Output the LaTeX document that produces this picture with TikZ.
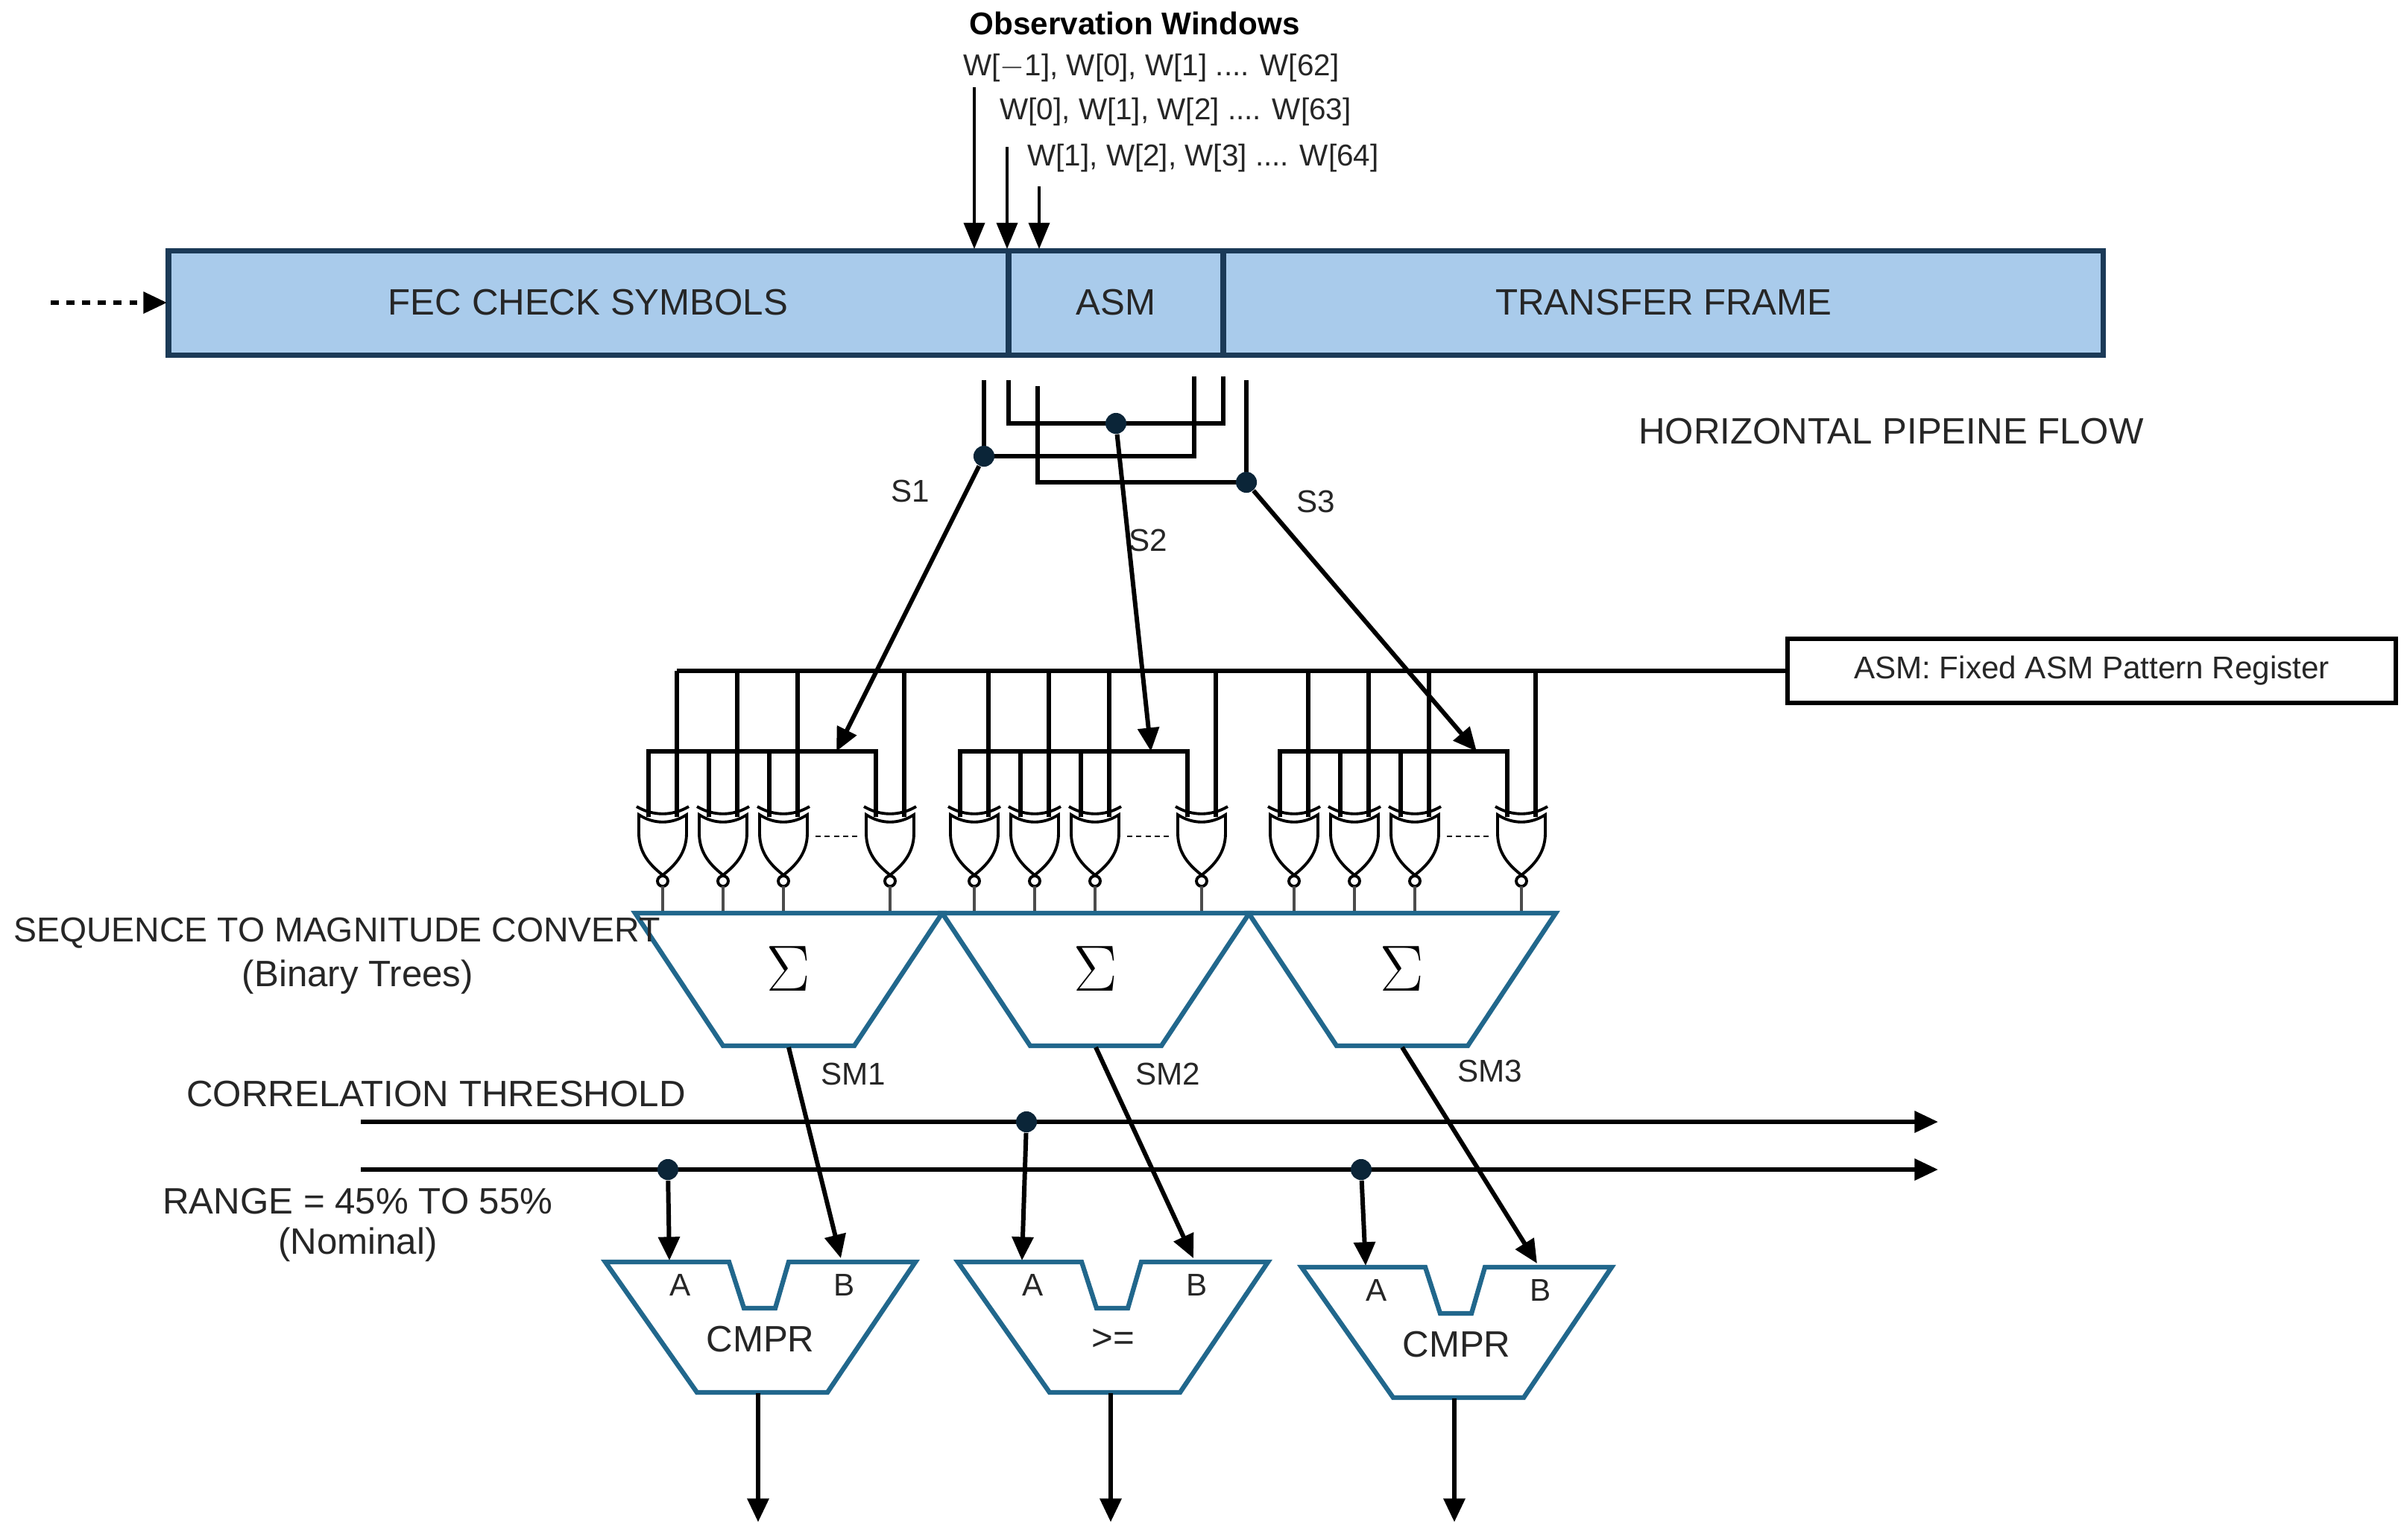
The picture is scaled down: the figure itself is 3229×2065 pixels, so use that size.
\documentclass[tikz,border=0pt]{standalone}
\usepackage{fontspec}
\setmainfont{Liberation Sans}
\usetikzlibrary{arrows.meta}
\definecolor{barfill}{HTML}{A9CBEB}
\definecolor{barline}{HTML}{1B3A57}
\definecolor{trap}{HTML}{21678C}
\definecolor{dotc}{HTML}{0B2538}
\begin{document}
\begin{tikzpicture}[x=0.01cm,y=-0.01cm,
  wire/.style={line width=1.7pt,black},
  arr/.style={wire,-{Triangle[length=9pt,width=8pt]}},
  gate/.style={line width=1.1pt,black},
  blk/.style={line width=1.8pt,trap},
  lbl/.style={font=\fontsize{14}{16}\selectfont,text=black!85},
  sm/.style={font=\fontsize{12}{14}\selectfont,text=black!85},
  wl/.style={font=\fontsize{11.5}{13}\selectfont,text=black!85},
  jdot/.style={circle,fill=dotc,inner sep=0pt,minimum size=8pt}]
\useasboundingbox (0,0) rectangle (3229,2065);
% top texts
\node[font=\bfseries\fontsize{12}{14}\selectfont] (obs) at (1522,31) {Observation Windows};
\node[wl,anchor=west] (w1) at (1280,91) {W[$-$1], W[0], W[1] .... W[62]};
\node[wl,anchor=west] (w2) at (1329,150) {W[0], W[1], W[2] .... W[63]};
\node[wl,anchor=west] (w3) at (1366,212) {W[1], W[2], W[3] .... W[64]};
% bar
\draw[line width=2pt,draw=barline,fill=barfill] (226,336) rectangle (2821,476);
\draw[line width=2pt,barline] (1353,336) -- (1353,476) (1641,336) -- (1641,476);
\node[lbl] (fec) at (789,406) {FEC CHECK SYMBOLS};
\node[lbl] (asm) at (1497,406) {ASM};
\node[lbl] (tf) at (2232,406) {TRANSFER FRAME};
\coordinate (din) at (68,406);
\draw[wire,dash pattern=on 3pt off 3pt,-{Triangle[length=9pt,width=8pt]}] (din) -- (224,406);
% observation arrows
\coordinate (a1s) at (1307,117); \coordinate (a1e) at (1307,334);
\coordinate (a2s) at (1351,197); \coordinate (a2e) at (1351,334);
\coordinate (a3s) at (1394,250); \coordinate (a3e) at (1394,334);
\draw[line width=1pt,-{Triangle[length=10pt,width=8pt]}] (a1s) -- (a1e);
\draw[line width=1pt,-{Triangle[length=10pt,width=8pt]}] (a2s) -- (a2e);
\draw[line width=1pt,-{Triangle[length=10pt,width=8pt]}] (a3s) -- (a3e);
% under-bar wiring
\draw[wire] (1320,510) -- (1320,612) -- (1602,612) -- (1602,505);
\draw[wire] (1353,510) -- (1353,568) -- (1641,568) -- (1641,505);
\draw[wire] (1392,518) -- (1392,647) -- (1672,647) -- (1672,510);
\node[jdot] (s1) at (1320,612) {};
\node[jdot] (s2) at (1497,568) {};
\node[jdot] (s3) at (1672,647) {};
\node[sm] (s1l) at (1221,659) {S1};
\node[sm] (s2l) at (1540,725) {S2};
\node[sm] (s3l) at (1765,673) {S3};
\node[lbl] (hpf) at (2537,579) {HORIZONTAL PIPEINE FLOW};
% ASM register
\node[draw,line width=1.7pt,minimum width=8.15cm,minimum height=0.86cm,sm,inner sep=0pt] (reg) at (2806,900) {ASM: Fixed ASM Pattern Register};
\draw[wire] (reg.west) -- (908,900);
% gate groups
\foreach \g/\sx/\nm in {889/1122/1,1307/1544/2,1736/1981/3}{
  \draw[wire] (\g-19,1096) -- (\g-19,1008) -- (\g+286,1008) -- (\g+286,1096);
  \foreach \o in {81,162}{ \draw[wire] (\g+\o-19,1008) -- (\g+\o-19,1096); }
  \coordinate (bus\nm) at (\sx,1008);
  \foreach \o in {0,81,162,305}{
    \pgfmathsetmacro\c{\g+\o}
    \draw[wire] (\c+19,900) -- (\c+19,1096);
    \draw[gate,fill=white] (\c-32,1093) .. controls (\c-12,1106) and (\c+12,1106) .. (\c+32,1093)
       -- (\c+32,1118) .. controls (\c+32,1148) and (\c+12,1164) .. (\c,1174)
       .. controls (\c-12,1164) and (\c-32,1148) .. (\c-32,1118) -- cycle;
    \draw[gate] (\c-35,1082) .. controls (\c-13,1095) and (\c+13,1095) .. (\c+35,1082);
    \draw[gate,fill=white] (\c,1182) circle (7);
    \draw[line width=1pt,black!70] (\c,1189) -- (\c,1225);
  }
  \draw[line width=0.8pt,dash pattern=on 2pt off 1.5pt] (\g+205,1122) -- (\g+262,1122);
}
\draw[arr] (s1) -- (bus1);
\draw[arr] (s2) -- (bus2);
\draw[arr] (s3) -- (bus3);
% sum trapezoids
\foreach \cx/\nm in {1058/1,1470/2,1881/3}{
  \draw[blk,fill=white] (\cx-206,1225) -- (\cx+206,1225) -- (\cx+88,1403) -- (\cx-88,1403) -- cycle;
  \node[font=\fontsize{60}{62}\selectfont] (sig\nm) at (\cx,1300) {$\Sigma$};
  \coordinate (sum\nm) at (\cx,1405);
}
\node[font=\fontsize{13.2}{15}\selectfont,text=black!85,anchor=west] (seq) at (6,1252) {SEQUENCE TO MAGNITUDE CONVERT};
\node[lbl] (bt) at (480,1311) {(Binary Trees)};
\node[sm] (sm1) at (1145,1441) {SM1};
\node[sm] (sm2) at (1567,1441) {SM2};
\node[sm] (sm3) at (1999,1437) {SM3};
% threshold lines
\node[lbl,anchor=west] (ct) at (238,1468) {CORRELATION THRESHOLD};
\node[lbl] (rg) at (480,1612) {RANGE = 45\% TO 55\%};
\node[lbl] (nom) at (480,1670) {(Nominal)};
\coordinate (t1s) at (484,1505); \coordinate (t1e) at (2600,1505);
\coordinate (t2s) at (484,1569); \coordinate (t2e) at (2600,1569);
\draw[arr] (t1s) -- (t1e);
\draw[arr] (t2s) -- (t2e);
\node[jdot] (d2) at (1377,1505) {};
\node[jdot] (d1) at (896,1569) {};
\node[jdot] (d3) at (1826,1569) {};
% comparators
\foreach \cx/\ty/\txt/\nm in {1020/1693/CMPR/1,1493/1693/{>=}/2,1954/1700/CMPR/3}{
  \draw[blk,fill=white] (\cx-208,\ty) -- (\cx-42,\ty) -- (\cx-22,\ty+62) -- (\cx+20,\ty+62) -- (\cx+38,\ty) -- (\cx+208,\ty)
     -- (\cx+90,\ty+175) -- (\cx-85,\ty+175) -- cycle;
  \node[sm] (ca\nm) at (\cx-107,\ty+31) {A};
  \node[sm] (cb\nm) at (\cx+113,\ty+31) {B};
  \node[lbl] (ct\nm) at (\cx,\ty+104) {\txt};
  \coordinate (ia\nm) at (\cx-122,\ty-2);
  \coordinate (ib\nm) at (\cx+108,\ty-5);
  \coordinate (o\nm) at (\cx-3,\ty+176);
  \coordinate (oe\nm) at (\cx-3,2042);
  \draw[arr] (o\nm) -- (oe\nm);
}
\draw[arr] (d1) -- (ia1);
\draw[arr] (d2) -- (ia2);
\draw[arr] (d3) -- (ia3);
\draw[arr] (sum1) -- (ib1);
\draw[arr] (sum2) -- (ib2);
\draw[arr] (sum3) -- (ib3);
\end{tikzpicture}
\end{document}
